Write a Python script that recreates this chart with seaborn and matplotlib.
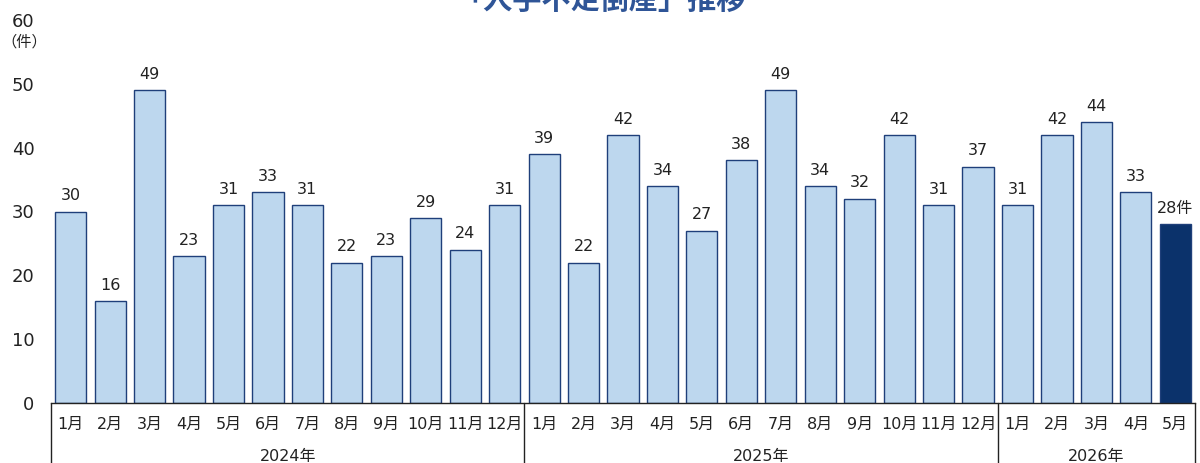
import matplotlib
matplotlib.use("Agg")
import matplotlib.pyplot as plt
import matplotlib.transforms as mtransforms
import seaborn as sns
import pandas as pd

# ---- data ----
years = ["2024年", "2025年", "2026年"]
months_2024 = ["1月", "2月", "3月", "4月", "5月", "6月", "7月", "8月", "9月", "10月", "11月", "12月"]
months_2025 = ["1月", "2月", "3月", "4月", "5月", "6月", "7月", "8月", "9月", "10月", "11月", "12月"]
months_2026 = ["1月", "2月", "3月", "4月", "5月"]
values_2024 = [30, 16, 49, 23, 31, 33, 31, 22, 23, 29, 24, 31]
values_2025 = [39, 22, 42, 34, 27, 38, 49, 34, 32, 42, 31, 37]
values_2026 = [31, 42, 44, 33, 28]
title = "「人手不足倒産」推移"
unit = "（件）"
yticks = [0, 10, 20, 30, 40, 50, 60]

sns.set_theme(style="white")
plt.rcParams['font.family'] = ['DejaVu Sans', 'Noto Sans CJK JP']

month_lists = [months_2024, months_2025, months_2026]
value_lists = [values_2024, values_2025, values_2026]
keys, labels, vals, yrs = [], [], [], []
for y, ms, vs in zip(years, month_lists, value_lists):
    for m, v in zip(ms, vs):
        keys.append(f"{y}{m}")
        labels.append(m)
        vals.append(v)
        yrs.append(y)
df = pd.DataFrame({"key": keys, "label": labels, "value": vals, "year": yrs})

light = "#BDD7EE"
dark = "#0B326B"
palette = {k: light for k in keys}
palette[keys[-1]] = dark

fig = plt.figure(figsize=(12, 4.63), dpi=100)
ax = fig.add_axes([51 / 1200, (463 - 403) / 463, 1144 / 1200, (403 - 20) / 463])

sns.barplot(data=df, x="key", y="value", hue="key", palette=palette, legend=False,
            width=0.79, edgecolor="#1F3F7A", linewidth=1.0, saturation=1, ax=ax, order=keys)

ax.set_xlim(-0.5, len(keys) - 0.5)
ax.set_ylim(0, 60)
ax.set_yticks(yticks)
ax.set_yticklabels([str(t) for t in yticks], fontsize=13, color="#222222")
ax.set_xticks(range(len(keys)))
ax.set_xticklabels(labels, fontsize=11.5, color="#222222")
ax.tick_params(axis="y", length=0, pad=12)
ax.tick_params(axis="x", length=0, pad=10)
ax.set_xlabel("")
ax.set_ylabel("")
for s in ["left", "top", "right"]:
    ax.spines[s].set_visible(False)
ax.spines["bottom"].set_color("#222222")
ax.spines["bottom"].set_linewidth(1.0)

# value labels
for i, v in enumerate(vals):
    txt = f"{v}件" if i == len(vals) - 1 else f"{v}"
    ax.annotate(txt, (i, v), xytext=(0, 6), textcoords="offset points",
                ha="center", va="bottom", fontsize=11.5, color="#222222")

# year separators and labels
trans = mtransforms.blended_transform_factory(ax.transData, ax.transAxes)
start = 0
bounds = [-0.5]
for ms in month_lists:
    start += len(ms)
    bounds.append(start - 0.5)
for b in bounds:
    ax.plot([b, b], [0, -0.2], transform=trans, color="#222222", lw=1.0, clip_on=False)
for y, a, b in zip(years, bounds[:-1], bounds[1:]):
    ax.text((a + b) / 2, -0.14, y, transform=trans, ha="center", va="center",
            fontsize=11.5, color="#222222")

# unit label
fig.text(24 / 1200, 1 - 42 / 463, unit, ha="center", va="center", fontsize=11, color="#222222")

# title (partly cut off at top, as in the reference)
fig.text(600 / 1200, 1 - 9 / 463, title, ha="center", va="baseline", fontsize=21,
         fontweight="bold", color="#2F5597")

fig.savefig("out.png", dpi=100)
